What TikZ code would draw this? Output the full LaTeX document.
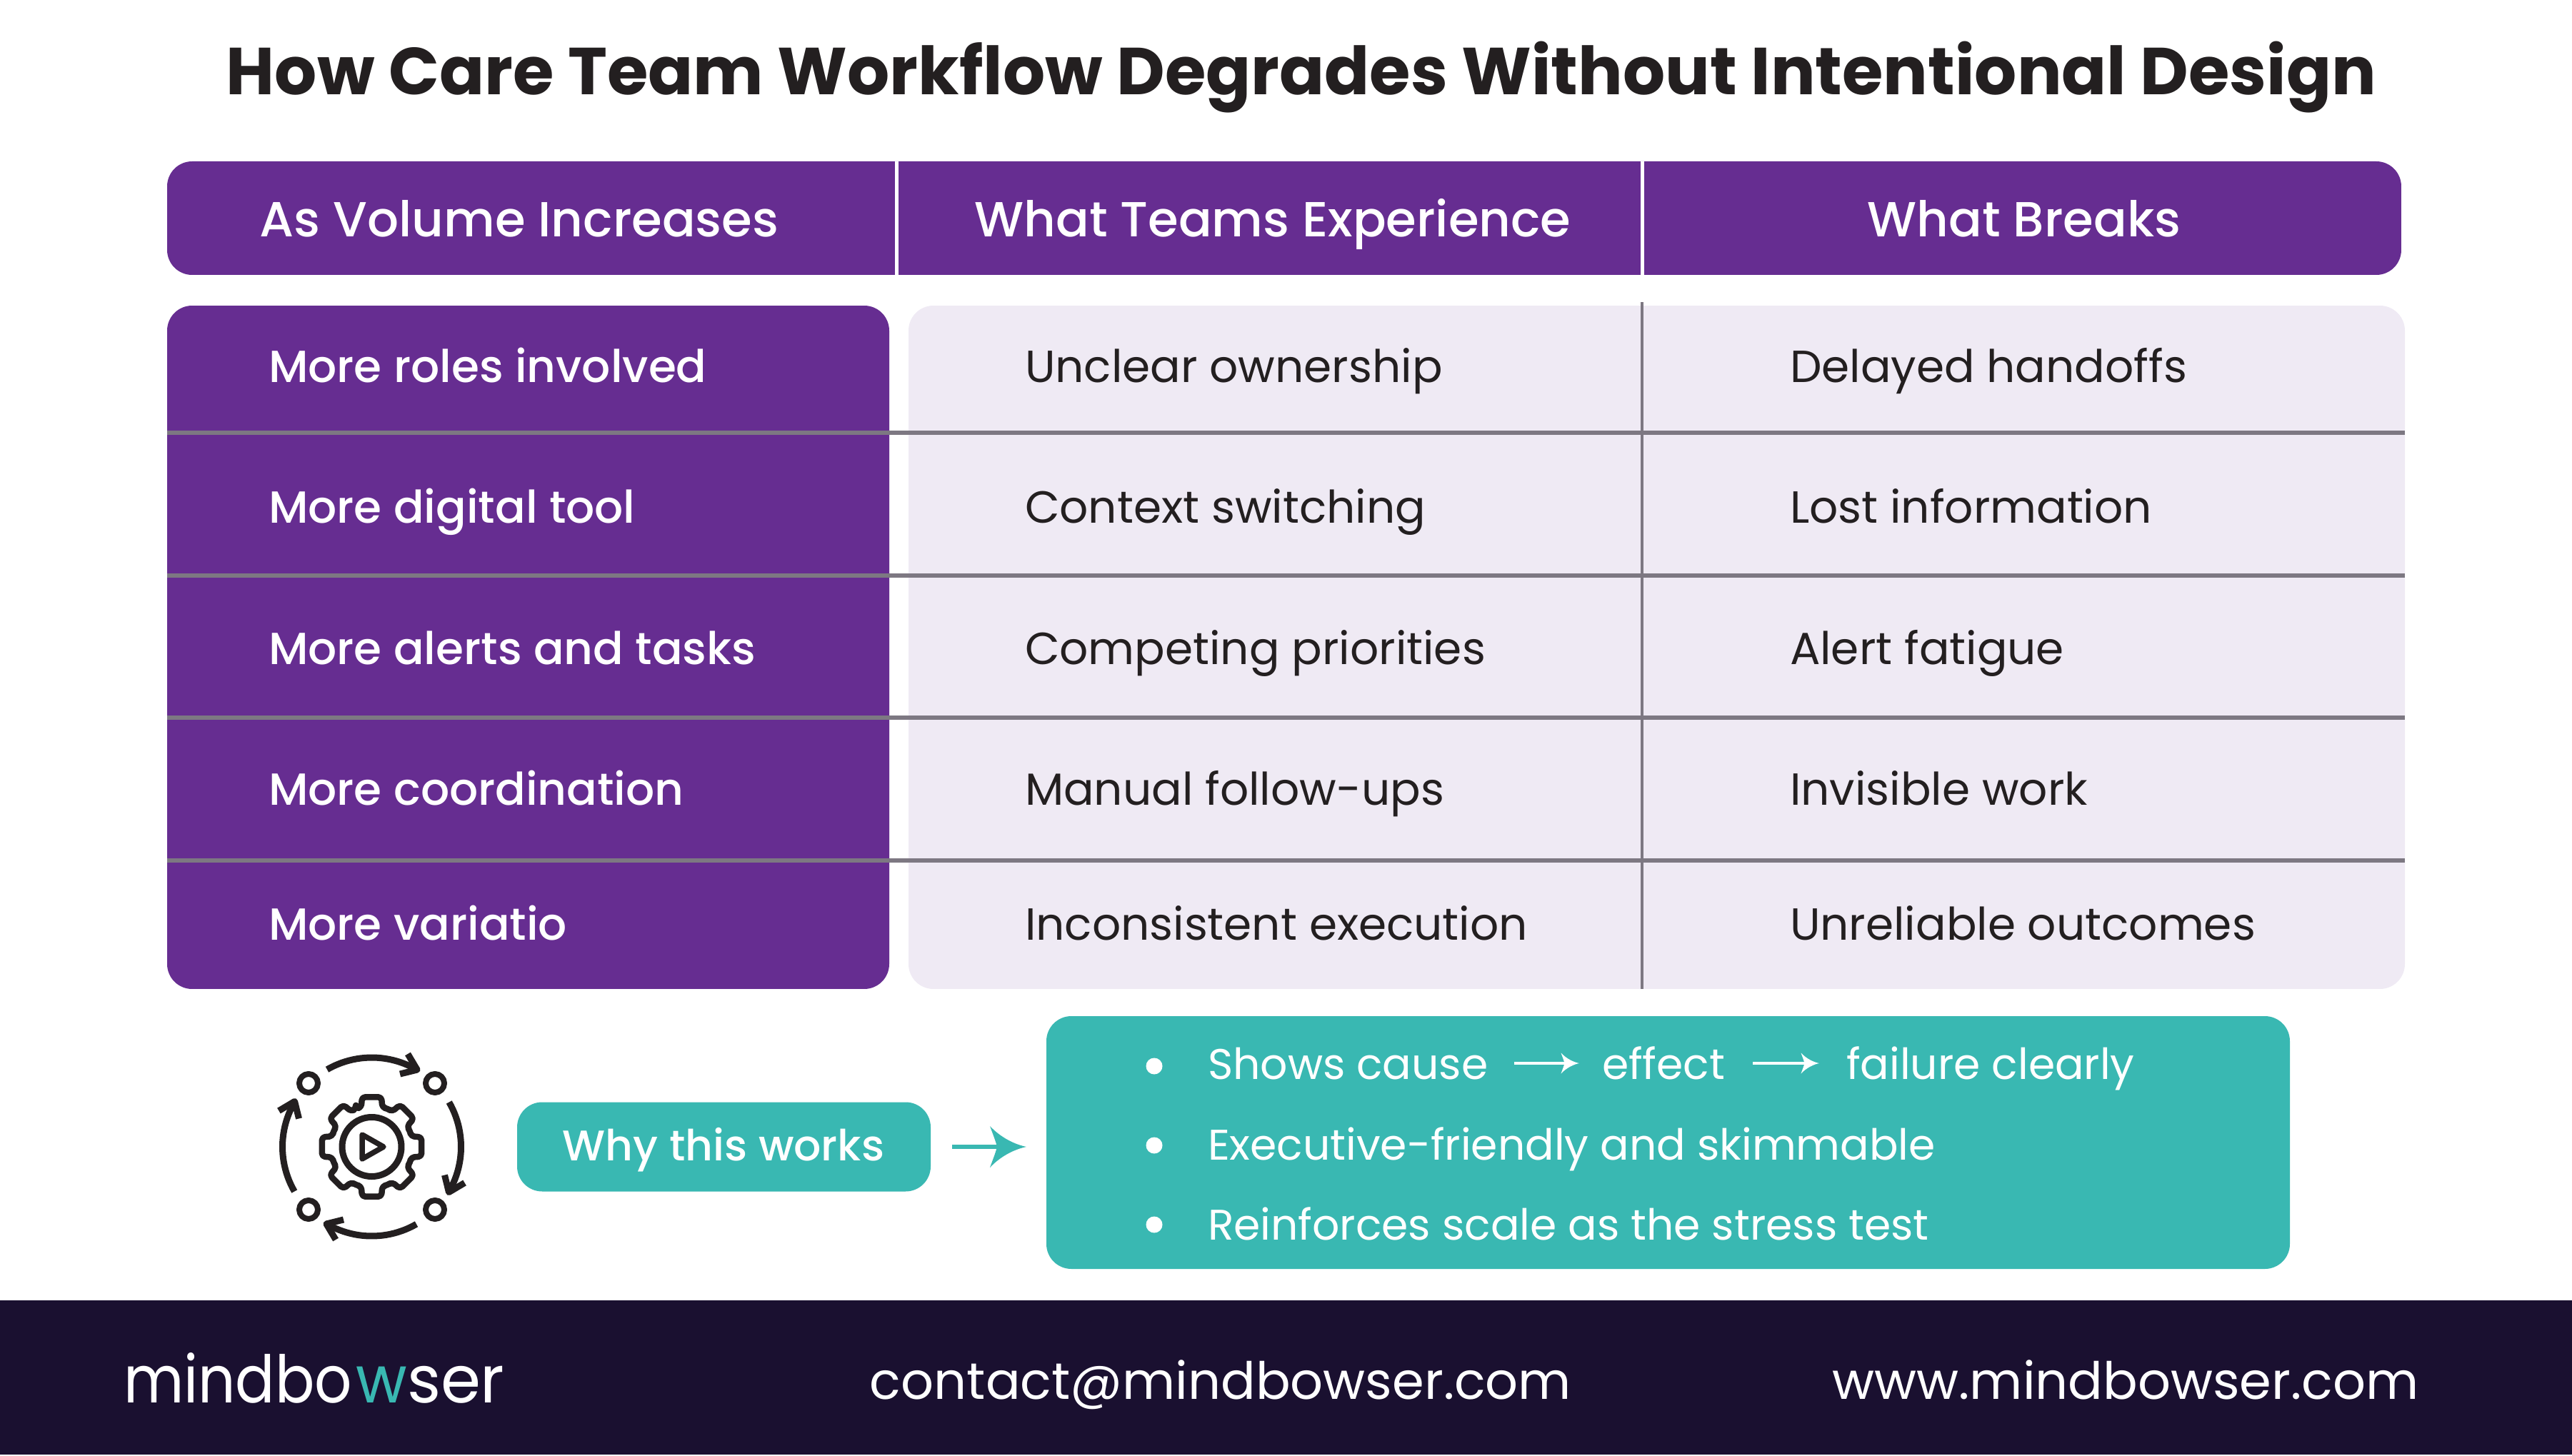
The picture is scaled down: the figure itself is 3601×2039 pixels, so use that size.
\documentclass[tikz,border=0pt]{standalone}
\usepackage{fontspec}
\usepackage{graphicx}
\setmainfont{Poppins}
\newfontfamily\poplight{Poppins Light}
\newfontfamily\popmed{Poppins Medium}
\usetikzlibrary{arrows.meta,calc}
\definecolor{cpurple}{HTML}{662D91}
\definecolor{cteal}{HTML}{39B8B2}
\definecolor{clight}{HTML}{EFEAF4}
\definecolor{cdark}{HTML}{1A1030}
\definecolor{cgrid}{HTML}{7D7882}
\definecolor{cink}{HTML}{231F20}
\newcommand{\pxf}[1]{\fontsize{\dimexpr#1pt*28453/100000\relax}{\dimexpr#1pt*3/10\relax}\selectfont}
\newcommand{\conchead}[3]{% colour, tip, scale
  \fill[#1,shift={(#2)},scale=#3] (0,0) .. controls (-15,-3) and (-35,-12) .. (-51,-29)
    .. controls (-47,-18) and (-43,-8) .. (-41,0)
    .. controls (-43,8) and (-47,18) .. (-51,29)
    .. controls (-35,12) and (-15,3) .. (0,0) -- cycle;}
\tikzset{
  x=0.1mm,y=-0.1mm,
  panel/.style={anchor=north west,inner sep=0pt,outer sep=0pt,rounded corners=3.5mm,draw=none},
  txt/.style={anchor=base west,inner sep=0pt,outer sep=0pt,text=cink,font=\pxf{63}},
  rowhead/.style={txt,text=white,font=\popmed\pxf{63}},
  headtxt/.style={anchor=base,inner sep=0pt,outer sep=0pt,text=white,font=\popmed\pxf{69}},
  teal txt/.style={txt,text=white,font=\pxf{60}},
  foot/.style={anchor=base,inner sep=0pt,outer sep=0pt,text=white,font=\pxf{72}},
  logo/.style={anchor=base west,inner sep=0pt,outer sep=0pt,text=white,font=\pxf{92}},
  grid line/.style={draw=cgrid,line width=0.6mm},
  bullet/.style={circle,fill=white,minimum size=2.3mm,inner sep=0pt,outer sep=0pt},
  icon/.style={draw=cink,line join=round},
  small arrow/.style={draw=white,line width=0.4mm},
  big arrow/.style={draw=cteal,line width=0.6mm},
}
\begin{document}
\begin{tikzpicture}
\useasboundingbox (0,0) rectangle (3601,2039);
\fill[white] (0,0) rectangle (3601,2039);
% title
\node[anchor=base,inner sep=0pt,text=cink,font=\bfseries\pxf{93}] (title) at (1822,133) {How Care Team Workflow Degrades Without Intentional Design};
% header bar
\node[panel,fill=cpurple,minimum width=312.8mm,minimum height=15.9mm] (hbar) at (234,226) {};
\draw[white,line width=0.5mm] (1255,226) -- (1255,385);
\draw[white,line width=0.5mm] (2299,226) -- (2299,385);
\node[headtxt] (h1) at (727,332) {As Volume Increases};
\node[headtxt] (h2) at (1782,332) {What Teams Experience};
\node[headtxt] (h3) at (2834,332) {What Breaks};
% panels
\node[panel,fill=cpurple,minimum width=101.1mm,minimum height=95.7mm] (pl) at (234,428) {};
\node[panel,fill=clight,minimum width=209.5mm,minimum height=95.7mm] (pr) at (1272,428) {};
\foreach \yy in {606,806,1005,1205} \draw[grid line] (234,\yy) -- (3367,\yy);
\draw[draw=cgrid,line width=0.45mm] (2299,423) -- (2299,1385);
% rows
\node[rowhead] (a1) at (376,535) {More roles involved};
\node[rowhead] (a2) at (376,732) {More digital tool};
\node[rowhead] (a3) at (376,930) {More alerts and tasks};
\node[rowhead] (a4) at (376,1127) {More coordination};
\node[rowhead] (a5) at (376,1316) {More variatio};
\node[txt] (b1) at (1435,535) {Unclear ownership};
\node[txt] (b2) at (1435,732) {Context switching};
\node[txt] (b3) at (1435,930) {Competing priorities};
\node[txt] (b4) at (1435,1127) {Manual follow-ups};
\node[txt] (b5) at (1435,1316) {Inconsistent execution};
\node[txt] (c1) at (2506,535) {Delayed handoffs};
\node[txt] (c2) at (2506,732) {Lost information};
\node[txt] (c3) at (2506,930) {Alert fatigue};
\node[txt] (c4) at (2506,1127) {Invisible work};
\node[txt] (c5) at (2506,1316) {Unreliable outcomes};
% why box
\node[panel,fill=cteal,anchor=west,minimum width=57.9mm,minimum height=12.5mm] (why) at (724,1606) {};
\node[anchor=base,inner sep=0pt,text=white,font=\popmed\pxf{60}] (whyt) at (1013,1625) {Why this works};
\node[panel,fill=cteal,anchor=west,minimum width=174.1mm,minimum height=35.4mm] (box) at (1465,1600) {};
\coordinate (bt) at (1437,1606);
\draw[big arrow,shorten <=3mm,shorten >=3.8mm] (why.east) -- (bt);
\conchead{cteal}{bt}{1}
% bullets
\node[bullet] (d1) at (1616,1493) {};
\node[bullet] (d2) at (1616,1604) {};
\node[bullet] (d3) at (1616,1715) {};
\node[teal txt] (t1a) at (1691,1511) {Shows cause};
\node[teal txt] (t1b) at (2243,1511) {effect};
\node[teal txt] (t1c) at (2585,1511) {failure clearly};
\node[teal txt] (t2) at (1691,1624) {Executive-friendly and skimmable};
\node[teal txt] (t3) at (1691,1736) {Reinforces scale as the stress test};
\coordinate (ay) at (0,1489);
\coordinate (st1) at (2211,1489);
\coordinate (st2) at (2547,1489);
\draw[small arrow,shorten <=3.7mm,shorten >=1.8mm] (t1a.east |- ay) -- (st1);
\draw[small arrow,shorten <=3.9mm,shorten >=1.8mm] (t1b.east |- ay) -- (st2);
\conchead{white}{st1}{0.5}
\conchead{white}{st2}{0.5}
% icon
\def\cx{520.5}\def\cy{1606}
\foreach \k in {0,1,2,3}{
  \pgfmathsetmacro{\ra}{240+90*\k}\pgfmathsetmacro{\rb}{299+90*\k}
  \pgfmathsetmacro{\ta}{300.5+90*\k}\pgfmathsetmacro{\tb}{291.2+90*\k}
  \draw[icon,line width=0.9mm] plot[domain=\ra:\rb,samples=24] ({\cx+125*cos(\x)},{\cy+125*sin(\x)});
  \draw[icon,line width=0.9mm] ({\cx+139.5*cos(\tb)},{\cy+139.5*sin(\tb)}) -- ({\cx+125.3*cos(\ta)},{\cy+125.3*sin(\ta)}) -- ({\cx+109.4*cos(\tb)},{\cy+109.4*sin(\tb)});
}
\foreach \sx/\sy in {432/1517,609/1517,432/1694,609/1694}
  \draw[icon,line width=0.8mm] (\sx,\sy) circle[radius=1.3mm];
\draw[icon,line width=0.9mm] (\cx,\cy) circle[radius=4.15mm];
\draw[icon,line width=0.75mm] (507,1589) -- (537,1606) -- (507,1623) -- cycle;
\draw[icon,line width=0.85mm,rounded corners=0.45mm]
  ({\cx+58*cos(-90-22.5)},{\cy+58*sin(-90-22.5)})
  \foreach \k in {0,...,7}{
    -- ({\cx+57*cos(-90+45*\k-15)},{\cy+57*sin(-90+45*\k-15)})
    -- ({\cx+71*cos(-90+45*\k-11)},{\cy+71*sin(-90+45*\k-11)})
    -- ({\cx+71*cos(-90+45*\k+11)},{\cy+71*sin(-90+45*\k+11)})
    -- ({\cx+57*cos(-90+45*\k+15)},{\cy+57*sin(-90+45*\k+15)})
    -- ({\cx+58*cos(-90+45*\k+22.5)},{\cy+58*sin(-90+45*\k+22.5)})
  } -- cycle;
% footer
\fill[cdark] (0,1821) rectangle (3601,2037);
\node[logo] (lg1) at (173,1964) {\scalebox{0.89}[1]{mindbo}};
\node[logo,text=cteal] (lg2) at (498,1964) {\scalebox{0.95}[1]{w}};
\node[logo] (lg3) at (570,1964) {\scalebox{0.98}[1]{ser}};
\node[foot] (fc) at (1709,1959) {contact@mindbowser.com};
\node[foot] (fw) at (2976,1959) {www.mindbowser.com};
\end{tikzpicture}
\end{document}
